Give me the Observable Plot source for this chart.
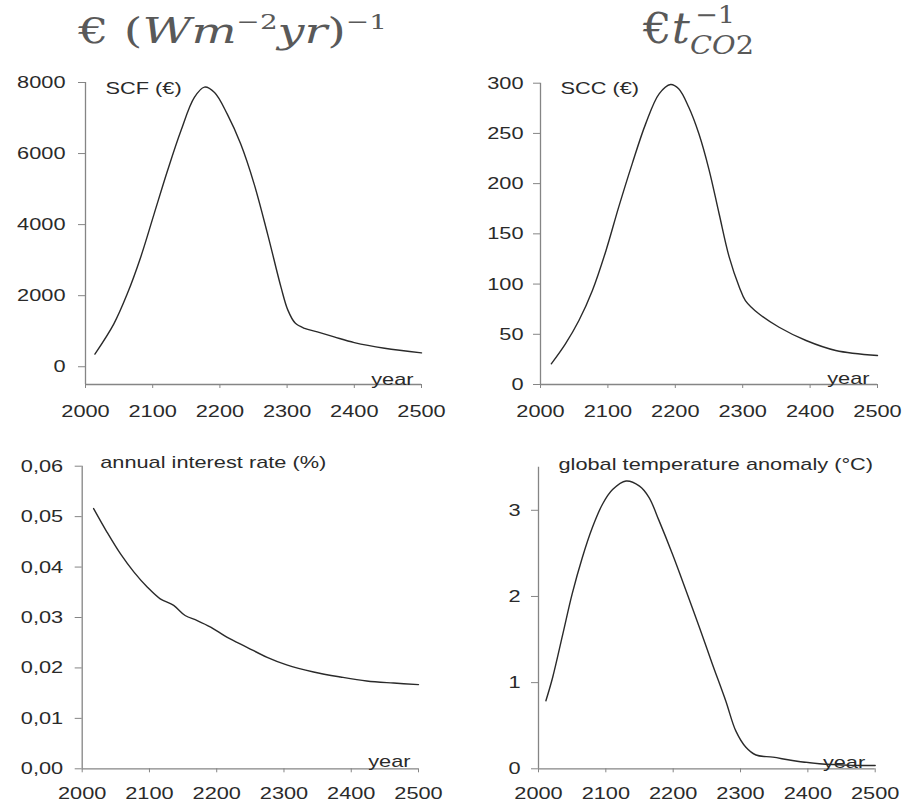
<!DOCTYPE html>
<html><head><meta charset="utf-8">
<script src="https://cdn.jsdelivr.net/npm/d3@7"></script>
<script src="https://cdn.jsdelivr.net/npm/@observablehq/plot@0.6"></script>
<style>
html,body{margin:0;padding:0;background:#fff;overflow:hidden}
#root{position:relative;width:904px;height:805px}
.panel{position:absolute}
#titles{position:absolute;left:0;top:0;overflow:visible}
</style></head><body><div id="root"><svg id="titles" width="904" height="60"></svg></div>
<script>
// ---- data ----
const xTicks = [2000, 2100, 2200, 2300, 2400, 2500];

const scfYears  = [2014, 2042, 2062, 2082, 2102, 2122, 2142, 2162, 2177, 2192, 2211, 2231, 2251, 2271, 2291, 2301, 2312, 2326, 2345, 2370, 2400, 2445, 2500];
const scfValues = [356, 1200, 2045, 3077, 4296, 5516, 6642, 7580, 7870, 7720, 7110, 6266, 5141, 3734, 2233, 1600, 1230, 1080, 980, 840, 680, 520, 390];
const scfTicks  = [0, 2000, 4000, 6000, 8000];

const sccYears  = [2016, 2037, 2057, 2077, 2097, 2116, 2136, 2156, 2176, 2193, 2205, 2220, 2235, 2250, 2265, 2280, 2295, 2304, 2324, 2354, 2394, 2438, 2500];
const sccValues = [20.6, 40.5, 63.7, 93.6, 133, 176.6, 219.7, 259.5, 289.4, 298.7, 294.4, 276, 249.6, 214, 170, 126.8, 96.9, 83.6, 70.4, 57, 43.8, 33.9, 28.9];
const sccTicks  = [0, 50, 100, 150, 200, 250, 300];

const rateYears  = [2017, 2037, 2057, 2077, 2097, 2116, 2136, 2153, 2171, 2191, 2215, 2245, 2275, 2304, 2344, 2384, 2423, 2463, 2500];
const rateValues = [0.0516, 0.0469, 0.0426, 0.0390, 0.0360, 0.0337, 0.0324, 0.0304, 0.0294, 0.0281, 0.0261, 0.0241, 0.0221, 0.0206, 0.0192, 0.0182, 0.0174, 0.0170, 0.0167];
const rateTicks  = [0, 0.01, 0.02, 0.03, 0.04, 0.05, 0.06];

const tempYears  = [2011, 2021, 2036, 2050, 2065, 2080, 2095, 2110, 2130, 2150, 2164, 2179, 2199, 2219, 2239, 2258, 2278, 2293, 2308, 2323, 2348, 2377, 2417, 2466, 2500];
const tempValues = [0.79, 1.06, 1.56, 2.03, 2.45, 2.80, 3.07, 3.24, 3.34, 3.28, 3.15, 2.88, 2.49, 2.07, 1.64, 1.22, 0.79, 0.44, 0.25, 0.16, 0.135, 0.097, 0.058, 0.04, 0.038];
const tempTicks  = [0, 1, 2, 3];

// ---- style ----
const axisColor = "#858585";
const textColor = "#2a2a2a";
const lineColor = "#2a2a2a";
const titleColor = "#595959";
const stretch = 1.28;

function stretchTexts(svg) {
  svg.querySelectorAll("text").forEach(t => {
    const tr = t.getAttribute("transform");
    if (tr) t.setAttribute("transform", tr + ` scale(${stretch},1)`);
    else {
      const x = +(t.getAttribute("x") || 0), y = +(t.getAttribute("y") || 0);
      t.removeAttribute("x"); t.removeAttribute("y");
      t.setAttribute("transform", `translate(${x},${y}) scale(${stretch},1)`);
    }
  });
}

function panel(o) {
  const data = o.years.map((y, i) => ({year: y, value: o.values[i]}));
  const chart = Plot.plot({
    width: o.width, height: o.height,
    marginLeft: o.fx0 - o.left, marginRight: o.left + o.width - o.fx1,
    marginTop: o.fy0 - o.top, marginBottom: o.top + o.height - o.fy1,
    style: {fontFamily: "'Liberation Sans', Arial, sans-serif", fontSize: "17px", color: textColor, background: "transparent", overflow: "visible"},
    x: {domain: [2000, 2500]},
    y: {domain: o.yDomain},
    marks: [
      Plot.ruleX([2000], {stroke: axisColor, strokeWidth: 1.3}),
      Plot.ruleY([o.yDomain[0]], {stroke: axisColor, strokeWidth: 1.3}),
      Plot.axisY({ticks: o.yTicks, tickSize: 7, tickPadding: o.yPad, tickFormat: o.yFormat, stroke: axisColor, fill: textColor, fontSize: 17, label: null}),
      Plot.axisX({ticks: xTicks, tickSize: 4, tickPadding: o.xPad, tickFormat: d => String(d), stroke: axisColor, fill: textColor, fontSize: 17, label: null}),
      Plot.line(data, {x: "year", y: "value", curve: "catmull-rom", stroke: lineColor, strokeWidth: 1.4}),
      Plot.text([o.label], {text: d => d, frameAnchor: "top-left", textAnchor: "start", lineAnchor: "top", dx: o.labelDx, dy: o.labelDy, fill: textColor, fontSize: 17}),
      Plot.text(["year"], {text: d => d, frameAnchor: "bottom-right", textAnchor: "end", lineAnchor: "bottom", dx: o.yearDx, dy: o.yearDy, fill: textColor, fontSize: 17})
    ]
  });
  stretchTexts(chart);
  const div = document.createElement("div");
  div.className = "panel";
  div.style.left = o.left + "px";
  div.style.top = o.top + "px";
  div.appendChild(chart);
  document.getElementById("root").appendChild(div);
}

const fmtComma = d => d.toFixed(2).replace(".", ",");

panel({left: 0, top: 50, width: 452, height: 374, fx0: 85, fx1: 421, fy0: 82, fy1: 384,
  yDomain: [-500, 8000], yTicks: scfTicks, yFormat: d => String(d), yPad: 13, xPad: 16,
  years: scfYears, values: scfValues, label: "SCF (€)", labelDx: 20, labelDy: -1, yearDx: -8, yearDy: 0});
panel({left: 452, top: 50, width: 452, height: 374, fx0: 540, fx1: 877, fy0: 82.7, fy1: 384,
  yDomain: [0, 300], yTicks: sccTicks, yFormat: d => String(d), yPad: 10, xPad: 16,
  years: sccYears, values: sccValues, label: "SCC (€)", labelDx: 20, labelDy: -1, yearDx: -8, yearDy: -1});
panel({left: 0, top: 420, width: 452, height: 384, fx0: 81.7, fx1: 418, fy0: 465.7, fy1: 768.3,
  yDomain: [0, 0.06], yTicks: rateTicks, yFormat: fmtComma, yPad: 12, xPad: 14,
  years: rateYears, values: rateValues, label: "annual interest rate (%)", labelDx: 18, labelDy: -10, yearDx: -8, yearDy: -2});
panel({left: 452, top: 420, width: 452, height: 384, fx0: 538, fx1: 874.7, fy0: 466.7, fy1: 768.3,
  yDomain: [0, 3.5], yTicks: tempTicks, yFormat: d => String(d), yPad: 11, xPad: 14,
  years: tempYears, values: tempValues, label: "global temperature anomaly (°C)", labelDx: 20, labelDy: -9, yearDx: -10, yearDy: -1});

// ---- titles ----
const ts = d3.select("#titles");
function fit(sel, x, y, w) {
  const b = sel.node().getBBox();
  const s = w / b.width;
  sel.attr("transform", `translate(${x - b.x * s},${y}) scale(${s},1)`);
}
const serif = "'DejaVu Serif', 'Liberation Serif', serif";
const t1 = ts.append("text").attr("fill", titleColor).attr("font-family", serif).attr("font-size", 36);
t1.append("tspan").text("€ (");
t1.append("tspan").attr("font-style", "italic").text("Wm");
t1.append("tspan").attr("font-size", 21).attr("dy", -14).text("−2");
t1.append("tspan").attr("font-style", "italic").attr("dy", 14).text("yr");
t1.append("tspan").text(")");
t1.append("tspan").attr("font-size", 21).attr("dy", -14).text("−1");
fit(t1, 77, 43, 310);

const t2 = ts.append("text").attr("fill", titleColor).attr("font-family", serif).attr("font-size", 42);
t2.append("tspan").text("€");
t2.append("tspan").attr("font-style", "italic").text("t");
fit(t2, 642, 43, 48);
const t2sup = ts.append("text").attr("fill", titleColor).attr("font-family", serif).attr("font-size", 24).text("−1");
fit(t2sup, 695, 23, 40);
const t2sub = ts.append("text").attr("fill", titleColor).attr("font-family", serif).attr("font-size", 26);
t2sub.append("tspan").attr("font-style", "italic").text("CO");
t2sub.append("tspan").text("2");
fit(t2sub, 690, 54, 64);
</script></body></html>
